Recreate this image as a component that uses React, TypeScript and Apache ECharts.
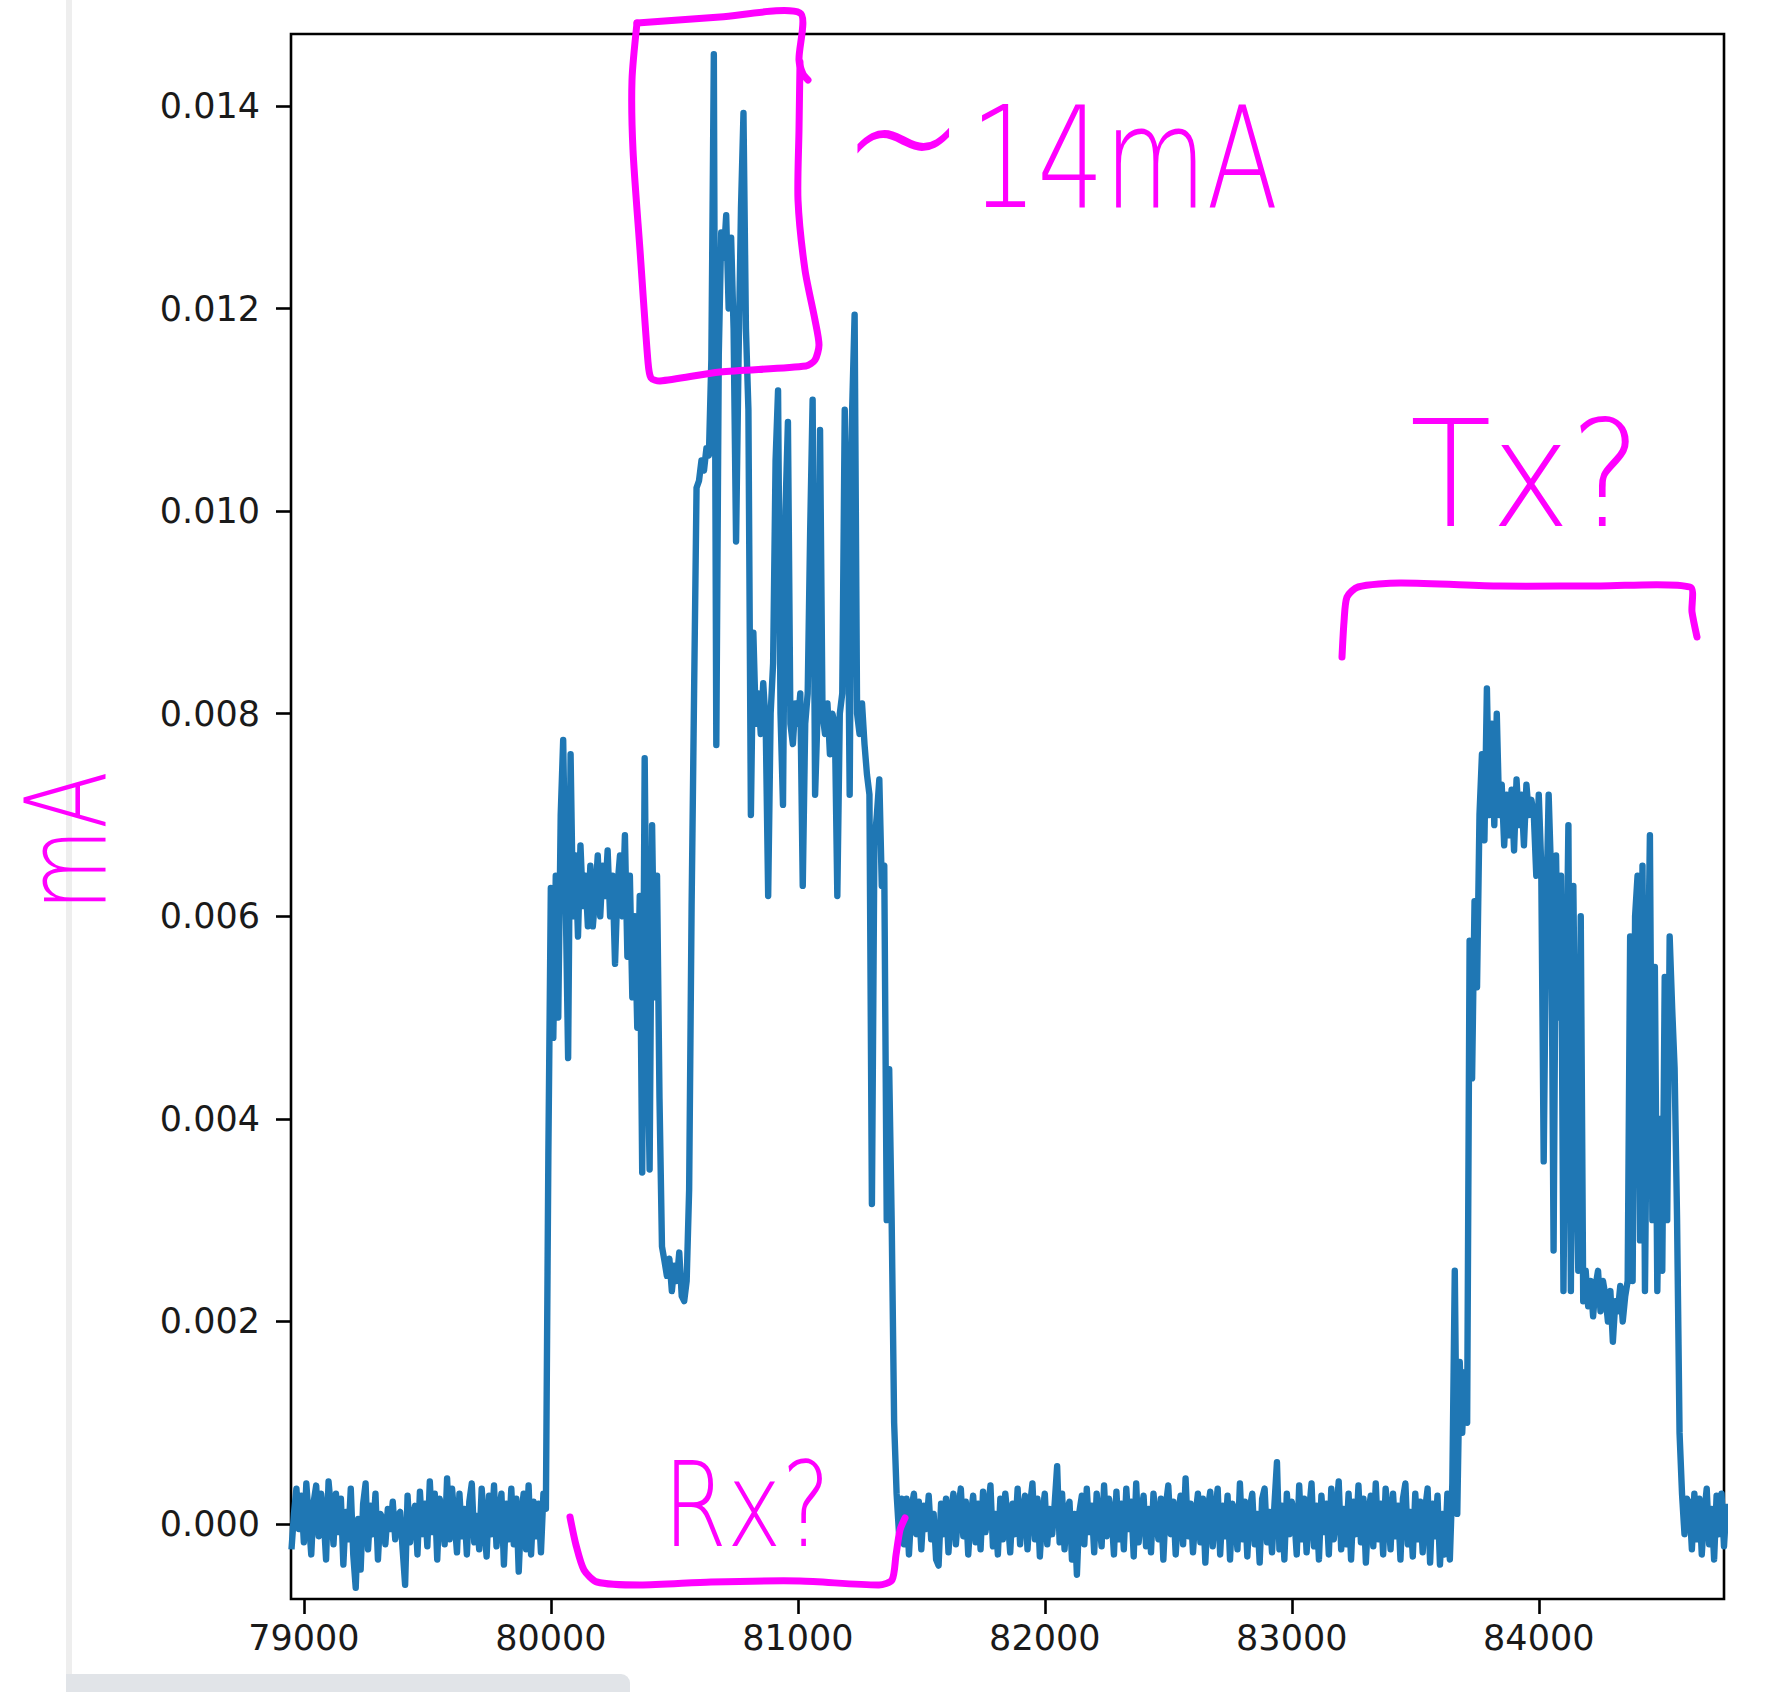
import React, { useEffect, useRef } from "react";
import * as echarts from "echarts";

// Sample spacing on the x axis and value unit (values below are in units of 1e-5)
const STEP = 10;
const UNIT = 1e-5;

// Baseline before the first burst (78950 .. 79980)
const SEG0_START = 78950;
const seg0 = [
  -25, 10, 35, -5, 28, -18, 40, 5, -30, 22,
  38, -12, 30, 8, -35, 42, 15, -20, 30, -8,
  25, -40, 12, -15, 35, -30, -63, 5, -45, 20,
  40, -25, 18, -10, 30, -35, 10, 5, -20, 15,
  -5, 22, -15, 8, 12, -25, -60, 28, -18, 5,
  18, -30, 32, -10, 20, -22, 42, -8, 30, -35,
  25, 10, -20, 45, -15, 35, 5, -28, 30, -12,
  15, -30, 22, 40, -18, 8, -25, 35, 0, -32,
  28, -10, 38, -22, 12, 30, -40, 20, -15, 35,
  -20, 25, -47, 10, 30, -25, 38, -30, 22, -12,
  20, -28, 30, 15,
];

// First burst ("Rx?") 79990 .. 81420
const BURST1_START = 79990;
const burst1 = [
  364, 628, 480, 640, 500, 700, 774, 620, 460, 760,
  600, 660, 580, 670, 610, 640, 590, 650, 590, 620,
  660, 600, 650, 620, 665, 600, 640, 553, 630, 660,
  600, 680, 560, 640, 520, 600, 490, 620, 347, 756,
  500, 350, 690, 520, 640, 420, 274, 260, 245, 262,
  230, 255, 240, 268, 225, 220, 240, 330, 610, 820,
  1023, 1030, 1050, 1040, 1062, 1055, 1150, 1451, 769, 1154,
  1275, 1250, 1292, 1200, 1270, 1180, 970, 1150, 1300, 1393,
  1180, 1100, 700, 880, 790, 820, 780, 830, 790, 620,
  800, 850, 1050, 1119, 800, 710, 1000, 1088, 790, 770,
  810, 790, 820, 630, 790, 820, 980, 1110, 720, 800,
  1080, 800, 780, 810, 760, 800, 790, 620, 800, 820,
  1100, 1000, 720, 1100, 1194, 800, 780, 810, 770, 740,
  720, 316, 670, 700, 735, 630, 650, 300, 449, 300,
  100, 30, -10, 25,
];

// Baseline between bursts 81430 .. 83640
const SEG2_START = 81430;
const seg2 = [
  -20, 25, -30, 15, 30, -10, 22, -25, 18, -5,
  28, -15, 10, -35, -41, 20, -10, 25, -28, 12,
  30, -20, 15, 35, -12, 22, -30, 8, 28, -18,
  20, -25, 32, -8, 15, 38, -22, 10, -30, 25,
  -15, 30, 5, -28, 20, -10, 35, -20, 12, 28,
  -25, 18, 40, -15, 25, -32, 10, 30, -20, 15,
  -10, 20, 57, -18, 30, -25, 15, 22, -35, 10,
  -50, 12, 28, -20, 35, -8, 18, -28, 30, 5,
  -22, 38, -12, 25, 10, -30, 32, -15, 20, -25,
  35, -5, 22, -32, 40, -18, 12, 28, -22, 15,
  -28, 30, 5, -15, 25, -35, 18, 38, -10, 22,
  -30, 12, 28, -20, 45, -12, 20, -28, 8, 30,
  -18, 25, -38, 15, 32, -22, 10, 35, -30, 18,
  -12, 28, -35, 20, 8, -25, 40, -15, 22, -32,
  15, 30, -20, 10, -38, 25, 35, -18, 12, -28,
  20, 61, -25, 18, -35, 30, -10, 22, 8, -30,
  38, -15, 25, -28, 12, 40, -22, 18, -35, 28,
  -8, 20, -30, 35, -15, 10, 42, -25, 15, -20,
  30, -35, 22, -10, 38, -18, 25, -38, 12, 28,
  -22, 40, -15, 20, -30, 35, 8, -25, 30, -12,
  18, -35, 25, 40, -20, 12, -32, 30, -15, 22,
  -28, 15, 35, -38, 20, -12, 28, -40, 10, -30,
  30, -35,
];

// Second burst ("Tx?") 83650 .. 84600
const BURST2_START = 83650;
const burst2 = [
  40, 250, 10, 160, 90, 150, 100, 576, 440, 615,
  530, 700, 760, 675, 825, 700, 790, 690, 800, 700,
  730, 670, 720, 680, 725, 665, 735, 690, 720, 670,
  730, 700, 715, 700, 640, 720, 650, 358, 600, 720,
  640, 270, 660, 500, 640, 230, 500, 690, 230, 630,
  400, 250, 600, 220, 250, 215, 240, 205, 235, 250,
  210, 240, 225, 200, 230, 180, 220, 210, 235, 200,
  225, 240, 580, 240, 600, 640, 280, 650, 230, 500,
  680, 300, 550, 230, 400, 250, 540, 300, 580, 510,
  450, 300, 90, 30, -10, 25,
];

// Baseline after the second burst 84610 .. 84760
const SEG3_START = 84610;
const seg3 = [20, -25, 30, -15, 25, -30, 10, 35, -20, 15, -35, 28, -10, 30, -22, 20];

// Axis tick values
const xTicks = [79000, 80000, 81000, 82000, 83000, 84000];
const yTicks = [0, 0.002, 0.004, 0.006, 0.008, 0.01, 0.012, 0.014];

// Hand-drawn annotation labels
const noteTopText = "~14mA";
const noteTxText = "Tx?";
const noteRxText = "Rx?";
const noteUnitText = "mA";

function toPoints(start: number, vals: number[]): [number, number][] {
  return vals.map((v, i) => [start + i * STEP, v * UNIT]);
}

const MAGENTA = "#ff00ff";
const HAND_FONT = "DejaVu Sans";

export default function App() {
  const ref = useRef<HTMLDivElement>(null);

  useEffect(() => {
    if (!ref.current) return;
    const chart = echarts.init(ref.current, null, { renderer: "svg" });

    const data = [
      ...toPoints(SEG0_START, seg0),
      ...toPoints(BURST1_START, burst1),
      ...toPoints(SEG2_START, seg2),
      ...toPoints(BURST2_START, burst2),
      ...toPoints(SEG3_START, seg3),
    ];

    const stroke = (points: number[][], width = 7) => ({
      type: "polyline",
      shape: { points, smooth: 0.25 },
      style: { stroke: MAGENTA, lineWidth: width, fill: null, lineCap: "round", lineJoin: "round" },
      z: 100,
    });

    chart.setOption({
      animation: false,
      backgroundColor: "#ffffff",
      grid: {
        left: 291,
        top: 34,
        width: 1433,
        height: 1565,
        show: true,
        borderColor: "#000000",
        borderWidth: 2.6,
        backgroundColor: "transparent",
        containLabel: false,
        outerBoundsMode: "none",
      },
      xAxis: {
        type: "value",
        position: "bottom",
        min: 78948,
        max: 84750,
        axisLine: { show: false, onZero: false },
        splitLine: { show: false },
        axisTick: {
          show: true,
          inside: false,
          length: 15,
          lineStyle: { color: "#000", width: 2.6 },
          customValues: xTicks,
        },
        axisLabel: {
          show: true,
          margin: 21,
          fontSize: 35,
          fontFamily: "DejaVu Sans",
          color: "#1a1a1a",
          customValues: xTicks,
          formatter: (v: number) => String(Math.round(v)),
        },
      },
      yAxis: {
        type: "value",
        position: "left",
        min: -0.00074,
        max: 0.01471,
        axisLine: { show: false, onZero: false },
        splitLine: { show: false },
        axisTick: {
          show: true,
          inside: false,
          length: 15,
          lineStyle: { color: "#000", width: 2.6 },
          customValues: yTicks,
        },
        axisLabel: {
          show: true,
          margin: 31,
          fontSize: 35,
          fontFamily: "DejaVu Sans",
          color: "#1a1a1a",
          customValues: yTicks,
          formatter: (v: number) => v.toFixed(3),
        },
      },
      series: [
        {
          type: "line",
          data,
          showSymbol: false,
          symbol: "none",
          clip: true,
          lineStyle: { color: "#1f77b4", width: 6.4, join: "round" },
          z: 5,
        },
      ],
      graphic: [
        // page artefacts (scroll area edges)
        { type: "rect", shape: { x: 66, y: 0, width: 6, height: 1692 }, style: { fill: "#eeeeee" }, z: 1 },
        { type: "rect", shape: { x: 66, y: 1674, width: 564, height: 30, r: [0, 9, 0, 0] }, style: { fill: "#e1e4e8" }, z: 2 },
        // box around the peak
        stroke([
          [637, 23], [720, 17], [800, 13], [799, 60], [803, 74], [808, 80],
        ]),
        stroke([
          [800, 62], [799, 130], [798, 200], [805, 270], [815, 320], [819, 345], [815, 360], [806, 366],
          [720, 372], [660, 381], [651, 378], [648, 362], [640, 250], [633, 150], [632, 80], [637, 23],
        ]),
        // Tx bracket
        stroke([
          [1342, 657], [1344, 622], [1347, 597], [1358, 587], [1400, 583], [1500, 586], [1600, 586], [1690, 587], [1692, 612], [1697, 637],
        ]),
        // Rx bracket
        stroke([
          [570, 1517], [576, 1545], [584, 1570], [597, 1582], [640, 1585], [711, 1582], [800, 1581], [879, 1585], [892, 1580], [896, 1555], [900, 1530], [905, 1518],
        ]),
        {
          type: "text",
          x: 842,
          y: 158,
          scaleX: 0.75,
          z: 101,
          style: {
            text: "{t|" + noteTopText.slice(0, 1) + "}{m|" + noteTopText.slice(1) + "}",
            fill: MAGENTA,
            fontSize: 140,
            fontFamily: HAND_FONT,
            fontWeight: 300,
            textAlign: "left",
            verticalAlign: "middle",
            rich: {
              t: {
                fontSize: 195,
                fontFamily: HAND_FONT,
                fontWeight: 300,
                fill: MAGENTA,
                color: MAGENTA,
                padding: [0, 8, 46, 0],
              },
              m: {
                fontSize: 140,
                fontFamily: HAND_FONT,
                fontWeight: 300,
                fill: MAGENTA,
                color: MAGENTA,
              },
            },
          },
        },
        {
          type: "text",
          x: 1410,
          y: 474,
          scaleX: 0.9,
          z: 101,
          style: {
            text: noteTxText,
            fill: MAGENTA,
            fontSize: 148,
            fontFamily: HAND_FONT,
            fontWeight: 300,
            textAlign: "left",
            verticalAlign: "middle",
          },
        },
        {
          type: "text",
          x: 663,
          y: 1505,
          scaleX: 0.78,
          z: 101,
          style: {
            text: noteRxText,
            fill: MAGENTA,
            fontSize: 118,
            fontFamily: HAND_FONT,
            fontWeight: 300,
            textAlign: "left",
            verticalAlign: "middle",
          },
        },
        {
          type: "text",
          x: 67,
          y: 841,
          rotation: Math.PI / 2,
          scaleX: 0.75,
          z: 101,
          style: {
            text: noteUnitText,
            fill: MAGENTA,
            fontSize: 112,
            fontFamily: HAND_FONT,
            fontWeight: 300,
            textAlign: "center",
            verticalAlign: "middle",
          },
        },
      ],
    });

    return () => chart.dispose();
  }, []);

  return (
    <div
      ref={ref}
      style={{ position: "fixed", left: 0, top: 0, width: 1775, height: 1692, background: "#ffffff" }}
    />
  );
}
